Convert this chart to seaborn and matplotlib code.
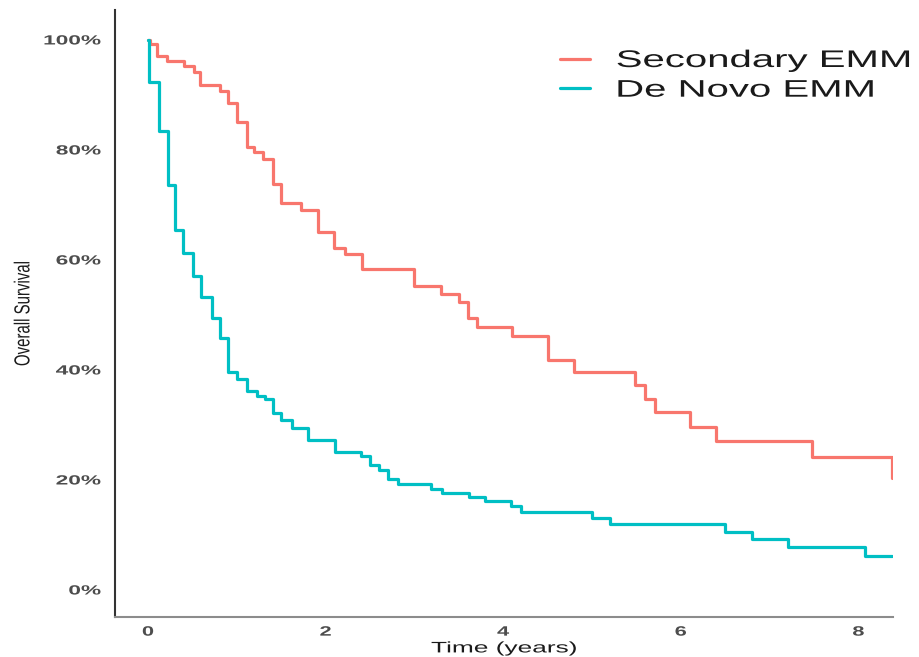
import numpy as np
import pandas as pd
import matplotlib
matplotlib.use("Agg")
import matplotlib.pyplot as plt
import matplotlib.patheffects as pe
from matplotlib.lines import Line2D
from matplotlib.transforms import Affine2D
from matplotlib.ticker import PercentFormatter
import seaborn as sns

# Kaplan-Meier step curves: time of each step (years) and survival after it (%)
groups = ["Secondary EMM", "De Novo EMM"]
secondary_time = [0.00, 0.02, 0.105, 0.21, 0.405, 0.52, 0.59, 0.81, 0.90, 1.005,
                  1.11, 1.19, 1.30, 1.41, 1.50, 1.72, 1.92, 2.10, 2.22, 2.41,
                  3.00, 3.30, 3.50, 3.60, 3.70, 4.10, 4.50, 4.80, 5.49, 5.60,
                  5.71, 6.10, 6.40, 7.48, 8.38]
secondary_surv = [100.0, 99.2, 97.1, 96.1, 95.2, 94.2, 91.9, 90.8, 88.5, 85.1,
                  80.6, 79.7, 78.3, 73.8, 70.4, 69.0, 65.1, 62.2, 61.1, 58.3,
                  55.3, 53.8, 52.4, 49.4, 47.9, 46.1, 41.9, 39.7, 37.3, 34.7,
                  32.4, 29.6, 27.0, 24.2, 20.3]
denovo_time = [0.00, 0.01, 0.127, 0.23, 0.30, 0.40, 0.51, 0.60, 0.72, 0.81,
               0.90, 1.005, 1.12, 1.23, 1.32, 1.41, 1.50, 1.62, 1.80, 2.11,
               2.40, 2.50, 2.60, 2.70, 2.82, 3.19, 3.31, 3.61, 3.80, 4.09,
               4.20, 5.00, 5.20, 6.50, 6.80, 7.21, 8.08, 8.38]
denovo_surv = [100.0, 92.4, 83.5, 73.6, 65.5, 61.2, 57.0, 53.3, 49.4, 45.9,
               39.7, 38.4, 36.1, 35.3, 34.8, 32.1, 30.9, 29.5, 27.3, 25.0,
               24.4, 22.7, 21.9, 20.2, 19.2, 18.3, 17.6, 16.9, 16.1, 15.2,
               14.1, 13.0, 12.0, 10.5, 9.3, 7.8, 6.2, 6.2]
x_ticks = [0, 2, 4, 6, 8]
y_ticks = [0, 20, 40, 60, 80, 100]
colors = ["#F8766D", "#00BFC4"]

df = pd.concat([
    pd.DataFrame({"time": secondary_time, "surv": secondary_surv, "group": groups[0]}),
    pd.DataFrame({"time": denovo_time, "surv": denovo_surv, "group": groups[1]}),
], ignore_index=True)


class Widen(pe.AbstractPathEffect):
    """Stretch glyph outlines by `factor` along the text's own x or y axis."""

    def __init__(self, factor, anchor="left", along="x"):
        super().__init__()
        self.factor = factor
        self.anchor = anchor
        self.along = along

    def draw_path(self, renderer, gc, tpath, affine, rgbFace=None):
        ext = tpath.get_extents()
        if self.along == "x":
            lo, hi = ext.x0, ext.x1
        else:
            lo, hi = ext.y0, ext.y1
        if self.anchor == "left":
            p = lo
        elif self.anchor == "right":
            p = hi
        else:
            p = 0.5 * (lo + hi)
        if self.along == "x":
            pre = Affine2D().translate(-p, 0).scale(self.factor, 1).translate(p, 0)
        else:
            pre = Affine2D().translate(0, -p).scale(1, self.factor).translate(0, p)
        renderer.draw_path(gc, tpath, pre + affine, rgbFace)


sns.set_style("white")
plt.rcParams["font.family"] = ["Liberation Sans", "DejaVu Sans"]

W, H = 919, 657
fig = plt.figure(figsize=(W / 100, H / 100), dpi=100)
ax = fig.add_axes([115 / W, (H - 617) / H, (893 - 115) / W, (617 - 10) / H])

sns.lineplot(data=df, x="time", y="surv", hue="group", hue_order=groups,
             palette=colors, estimator=None, sort=False, drawstyle="steps-post",
             linewidth=2.3, legend=False, ax=ax)

ax.set_xlim(-0.371, 8.39)
ax.set_ylim(-4.91, 105.45)
ax.set_xticks(x_ticks)
ax.set_yticks(y_ticks)
ax.yaxis.set_major_formatter(PercentFormatter(xmax=100, decimals=0))

for side in ["top", "right"]:
    ax.spines[side].set_visible(False)
ax.spines["left"].set_color("#333333")
ax.spines["left"].set_linewidth(1.5)
ax.spines["bottom"].set_color("#8c8c8c")
ax.spines["bottom"].set_linewidth(1.5)

ax.tick_params(axis="y", direction="out", length=3.6, width=1.0, color="#333333",
               pad=6.5, labelsize=9.6, labelcolor="#4D4D4D")
ax.tick_params(axis="x", direction="out", length=2.5, width=1.2, color="#333333",
               pad=3.0, labelsize=9.8, labelcolor="#4D4D4D")
for t in ax.get_yticklabels():
    t.set_fontweight("bold")
    t.set_path_effects([Widen(1.7, "right")])
for t in ax.get_xticklabels():
    t.set_fontweight("bold")
    t.set_path_effects([Widen(1.6, "center")])

ax.set_xlabel("Time (years)", fontsize=11, color="#1a1a1a", labelpad=2)
ax.xaxis.label.set_path_effects([Widen(1.72, "center")])
ax.set_ylabel("Overall Survival", fontsize=10.8, color="#1a1a1a")
ax.yaxis.set_label_coords((30 - 115) / (893 - 115), 0.5)
ax.yaxis.label.set_path_effects([Widen(1.45, "center", along="y")])

handles = [Line2D([], [], color=c, linewidth=2.3) for c in colors]
leg = ax.legend(handles, groups, frameon=False, loc="upper left",
                bbox_to_anchor=(560 / W, 1 - 50 / H), bbox_transform=fig.transFigure,
                borderpad=0, borderaxespad=0, fontsize=17.3, handlelength=1.25,
                handletextpad=1.1, labelspacing=0.32)
for t in leg.get_texts():
    t.set_color("#1a1a1a")
    t.set_path_effects([Widen(1.67, "left")])

fig.savefig("out.png", dpi=100)
